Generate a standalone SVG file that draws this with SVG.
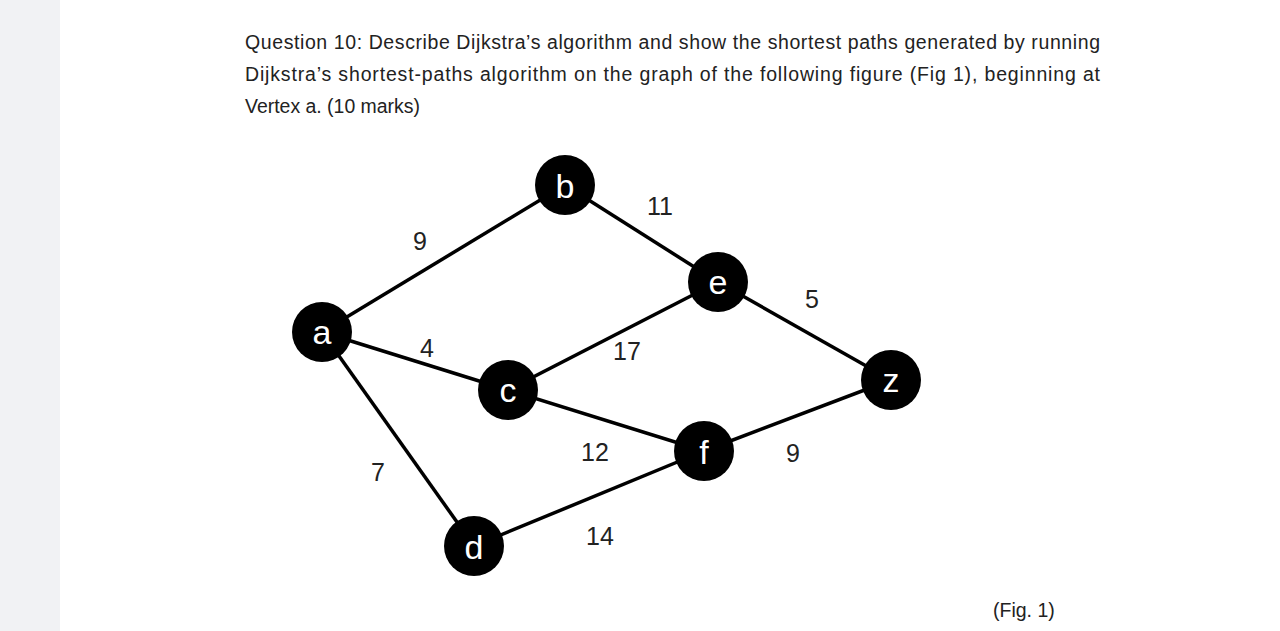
<svg xmlns="http://www.w3.org/2000/svg" width="1280" height="631" viewBox="0 0 1280 631">
<style>
.q{font-family:"Liberation Sans",Arial,sans-serif;font-size:19.5px;fill:#222}
.w{font-family:"Liberation Sans",Arial,sans-serif;font-size:25px;fill:#222;text-anchor:middle}
.n{fill:#000}
.nl{font-family:"Liberation Sans",Arial,sans-serif;font-size:34px;fill:#fff;text-anchor:middle}
.e{stroke:#000;stroke-width:3.5;fill:none}
</style>
<rect width="1280" height="631" fill="#fff"/>
<rect x="0" y="0" width="60" height="631" fill="#f1f2f4"/>
<g id="question">
<text class="q" x="245" y="49" textLength="855" lengthAdjust="spacing">Question 10: Describe Dijkstra’s algorithm and show the shortest paths generated by running</text>
<text class="q" x="245" y="81" textLength="855" lengthAdjust="spacing">Dijkstra’s shortest-paths algorithm on the graph of the following figure (Fig 1), beginning at</text>
<text class="q" x="245" y="113" textLength="175" lengthAdjust="spacingAndGlyphs">Vertex a. (10 marks)</text>
</g>
<g id="connectors">
<line class="e" x1="322" y1="332" x2="565" y2="185"/>
<line class="e" x1="322" y1="332" x2="508" y2="390"/>
<line class="e" x1="322" y1="332" x2="474" y2="546"/>
<line class="e" x1="565" y1="185" x2="718" y2="282"/>
<line class="e" x1="508" y1="390" x2="718" y2="282"/>
<line class="e" x1="508" y1="390" x2="704" y2="451"/>
<line class="e" x1="718" y1="282" x2="891" y2="380"/>
<line class="e" x1="474" y1="546" x2="704" y2="451"/>
<line class="e" x1="704" y1="451" x2="891" y2="380"/>
<text class="w" x="420" y="250">9</text>
<text class="w" x="660" y="215">11</text>
<text class="w" x="427" y="357">4</text>
<text class="w" x="627" y="360">17</text>
<text class="w" x="812" y="308">5</text>
<text class="w" x="378" y="481">7</text>
<text class="w" x="595" y="461">12</text>
<text class="w" x="793" y="462">9</text>
<text class="w" x="600" y="545">14</text>
</g>
<g id="node-a"><circle class="n" cx="322" cy="332" r="30"/><text class="nl" x="322" y="344">a</text></g>
<g id="node-b"><circle class="n" cx="565" cy="185" r="30"/><text class="nl" x="565" y="198">b</text></g>
<g id="node-c"><circle class="n" cx="508" cy="390" r="30"/><text class="nl" x="508" y="402">c</text></g>
<g id="node-d"><circle class="n" cx="474" cy="546" r="30"/><text class="nl" x="474" y="559">d</text></g>
<g id="node-e"><circle class="n" cx="718" cy="282" r="30"/><text class="nl" x="718" y="294">e</text></g>
<g id="node-f"><circle class="n" cx="704" cy="451" r="30"/><text class="nl" x="704" y="464">f</text></g>
<g id="node-z"><circle class="n" cx="891" cy="380" r="30"/><text class="nl" x="891" y="392">z</text></g>
<text class="q" x="993" y="617">(Fig. 1)</text>
</svg>
